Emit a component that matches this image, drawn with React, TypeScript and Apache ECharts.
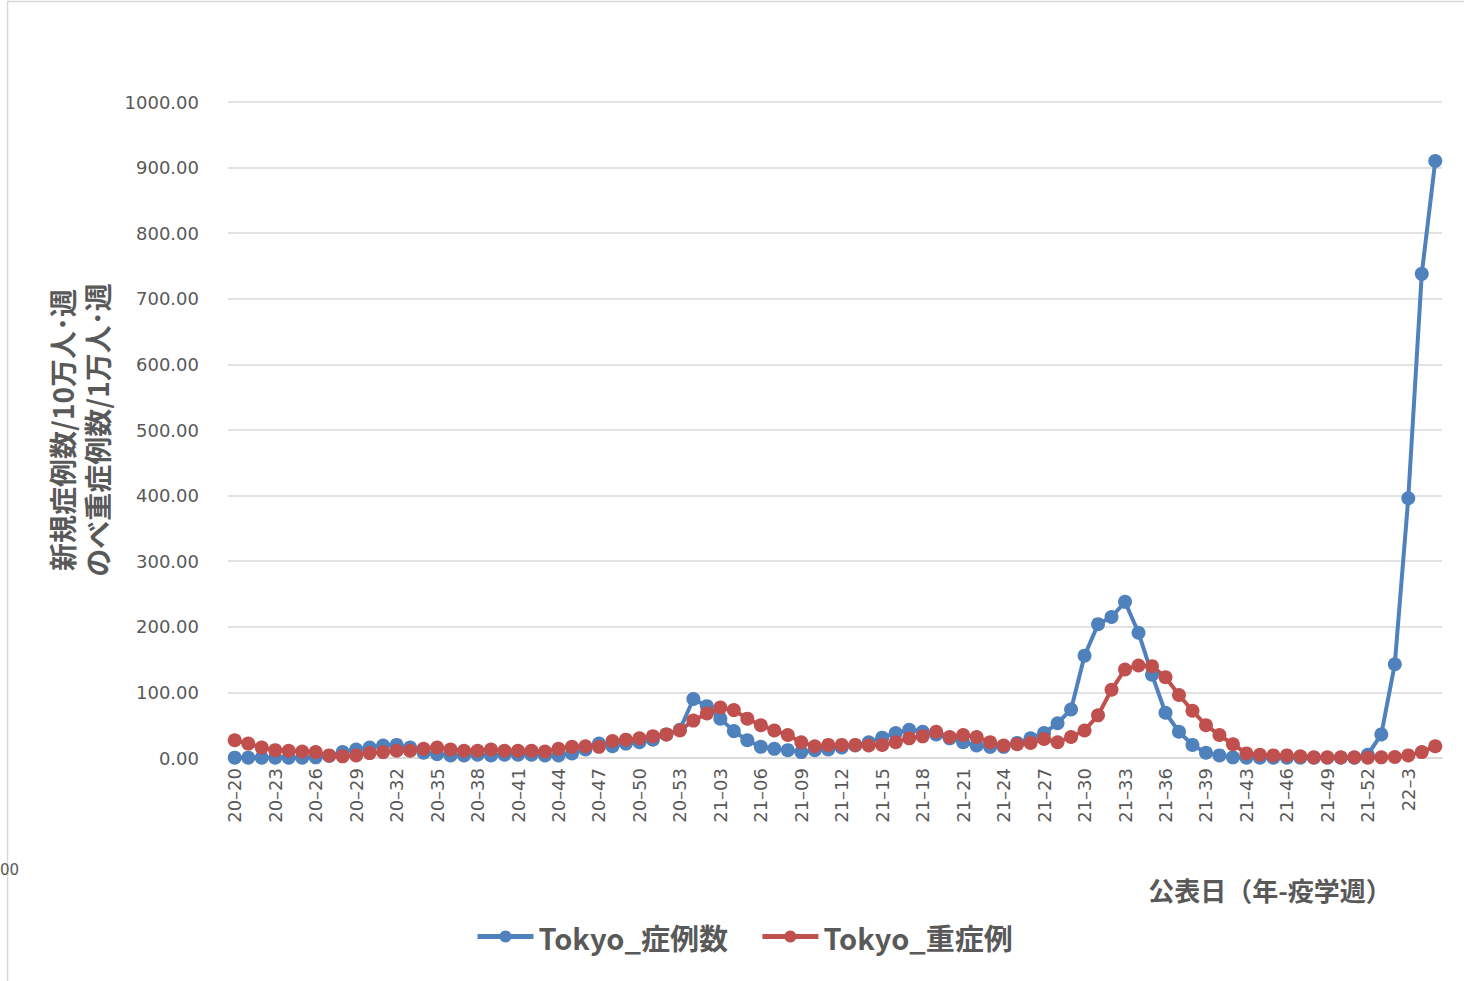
import React, { useEffect, useRef } from "react";
import * as echarts from "echarts";

const weekLabels: string[] = [
  "20–20", "20–21", "20–22", "20–23", "20–24", "20–25", "20–26", "20–27", "20–28", "20–29",
  "20–30", "20–31", "20–32", "20–33", "20–34", "20–35", "20–36", "20–37", "20–38", "20–39",
  "20–40", "20–41", "20–42", "20–43", "20–44", "20–45", "20–46", "20–47", "20–48", "20–49",
  "20–50", "20–51", "20–52", "20–53",
  "21–01", "21–02", "21–03", "21–04", "21–05", "21–06", "21–07", "21–08", "21–09", "21–10",
  "21–11", "21–12", "21–13", "21–14", "21–15", "21–16", "21–17", "21–18", "21–19", "21–20",
  "21–21", "21–22", "21–23", "21–24", "21–25", "21–26", "21–27", "21–28", "21–29", "21–30",
  "21–31", "21–32", "21–33", "21–34", "21–35", "21–36", "21–37", "21–38", "21–39", "21–41",
  "21–42", "21–43", "21–44", "21–45", "21–46", "21–47", "21–48", "21–49", "21–50", "21–51",
  "21–52",
  "22–1", "22–2", "22–3", "22–4", "22–5",
];

// Tokyo new cases per 100k per week
const casesTokyo: number[] = [
  0.5, 0.5, 0.5, 0.5, 0.5, 0.5, 1, 3, 9, 13,
  16, 19, 20, 16, 8, 6, 4, 4, 5, 4,
  5, 5, 5, 4, 4, 7, 13, 22, 18, 22,
  24, 28, 36, 43, 90, 79, 60, 41, 27, 17,
  14, 12, 9, 12, 13, 16, 19, 24, 31, 38,
  43, 40, 36, 30, 24, 19, 17, 17, 23, 30,
  38, 53, 74, 156, 204, 215, 238, 191, 127, 69,
  40, 20, 8, 4, 1, 0.5, 0.5, 0.5, 0.5, 0.5,
  0.5, 0.5, 0.5, 0.5, 5, 36, 143, 396, 738, 910,
];

// Tokyo severe cases per 10k per week
const severeTokyo: number[] = [
  27, 22, 16, 12, 11, 10, 9, 4, 2.5, 4,
  7.5, 9, 11, 11, 14, 16, 13, 11, 11, 13,
  11, 11, 11, 10, 14, 17, 18, 17, 26, 28,
  30, 33, 36, 42, 57, 68, 77, 73, 60, 50,
  42, 35, 24, 18, 20, 20, 20, 19, 20, 24,
  30, 33, 40, 32, 35, 32, 24, 19, 21, 23,
  29, 24, 32, 42, 65, 104, 135, 141, 140, 123,
  96, 72, 50, 35, 21, 7, 5, 4, 4, 2.5,
  1, 1, 1, 1, 0.5, 1, 1.5, 4, 9, 18,
];

const seriesNames = ["Tokyo_症例数", "Tokyo_重症例"];
const yAxisTitle = "新規症例数/10万人･週\nのべ重症例数/1万人･週";
const xAxisTitle = "公表日（年-疫学週）";

const TEXT = "#595959";
const GRID = "#d9d9d9";
const BLUE = "#4F81BD";
const RED = "#C0504D";
const CJK = "'Noto Sans CJK JP', 'Noto Sans', sans-serif";
const NUM = "'DejaVu Sans', sans-serif";

export default function App() {
  const ref = useRef<HTMLDivElement>(null);
  useEffect(() => {
    if (!ref.current) return;
    const chart = echarts.init(ref.current, undefined, { renderer: "svg" });
    chart.setOption({
      animation: false,
      backgroundColor: "#ffffff",
      grid: { left: 228, right: 22, top: 102, bottom: 223, containLabel: false },
      legend: {
        left: 470,
        top: 917,
        itemWidth: 56,
        itemHeight: 15,
        itemGap: 32,
        data: seriesNames,
        lineStyle: { width: 5 },
        textStyle: { color: TEXT, fontSize: 29, fontWeight: "bold", fontFamily: CJK },
      },
      xAxis: {
        type: "category",
        data: weekLabels,
        boundaryGap: true,
        axisLine: { show: true, lineStyle: { color: GRID, width: 1.5 } },
        axisTick: { show: false },
        axisLabel: {
          interval: 2,
          rotate: 90,
          margin: 10,
          color: TEXT,
          fontSize: 18,
          fontFamily: NUM,
        },
        splitLine: { show: false },
      },
      yAxis: {
        type: "value",
        min: 0,
        max: 1000,
        interval: 100,
        axisLine: { show: false },
        axisTick: { show: false },
        axisLabel: {
          margin: 29,
          color: TEXT,
          fontSize: 18,
          fontFamily: NUM,
          formatter: (v: number) => v.toFixed(2),
        },
        splitLine: { show: true, lineStyle: { color: GRID, width: 1.5 } },
      },
      series: [
        {
          name: seriesNames[0],
          type: "line",
          data: casesTokyo,
          symbol: "circle",
          symbolSize: 14,
          showAllSymbol: true,
          lineStyle: { width: 4, color: BLUE },
          itemStyle: { color: BLUE },
        },
        {
          name: seriesNames[1],
          type: "line",
          data: severeTokyo,
          symbol: "circle",
          symbolSize: 14,
          showAllSymbol: true,
          lineStyle: { width: 4, color: RED },
          itemStyle: { color: RED },
        },
      ],
      graphic: [
        {
          type: "rect",
          shape: { x: 7.5, y: 1.5, width: 1600, height: 1100 },
          style: { fill: "none", stroke: GRID, lineWidth: 1.5 },
          silent: true,
        },
        {
          type: "text",
          x: 79,
          y: 430,
          rotation: Math.PI / 2,
          style: {
            text: yAxisTitle,
            fill: TEXT,
            fontSize: 28,
            fontWeight: "bold",
            fontFamily: CJK,
            align: "center",
            verticalAlign: "middle",
            lineHeight: 35,
          },
        },
        {
          type: "text",
          x: 1270,
          y: 889,
          style: {
            text: xAxisTitle,
            fill: TEXT,
            fontSize: 26,
            fontWeight: "bold",
            fontFamily: CJK,
            align: "center",
            verticalAlign: "middle",
          },
        },
        {
          type: "text",
          x: 0,
          y: 870,
          style: {
            text: "00",
            fill: TEXT,
            fontSize: 15,
            fontFamily: NUM,
            align: "left",
            verticalAlign: "middle",
          },
        },
      ],
    });
    return () => chart.dispose();
  }, []);
  return (
    <div
      ref={ref}
      style={{ position: "fixed", left: 0, top: 0, width: 1464, height: 981 }}
    />
  );
}
